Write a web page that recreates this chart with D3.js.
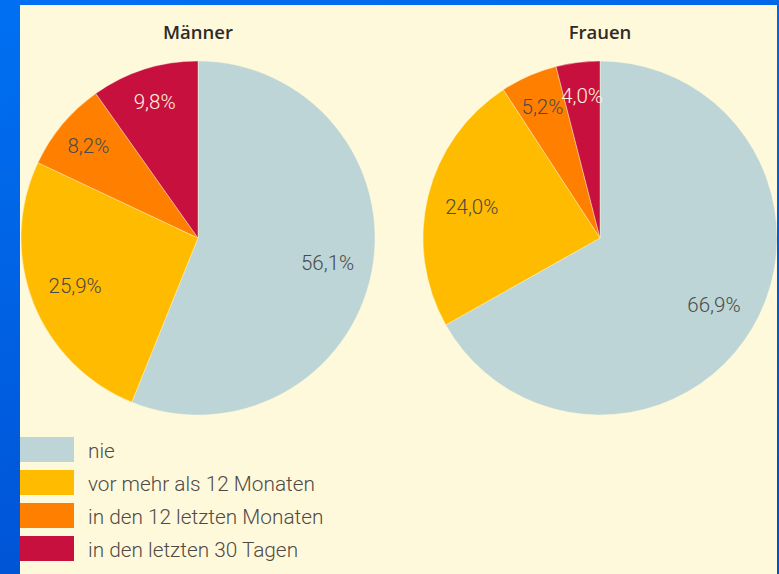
<!DOCTYPE html>
<html>
<head>
<meta charset="utf-8">
<script src="https://cdn.jsdelivr.net/npm/d3@7"></script>
<style>
  html, body { margin: 0; padding: 0; }
  body { width: 779px; height: 574px; overflow: hidden; background: #0068ec; }
  svg { display: block; }
</style>
</head>
<body>
<svg id="chart" width="779" height="574"></svg>
<script>
// Categories and shares (percent) per group
const categories = ["nie", "vor mehr als 12 Monaten", "in den 12 letzten Monaten", "in den letzten 30 Tagen"];
const groups = ["Männer", "Frauen"];
const maennerValues = [56.1, 25.9, 8.2, 9.8];
const frauenValues = [66.9, 24.0, 5.2, 4.0];
const seriesValues = [maennerValues, frauenValues];
const colors = ["#bdd5d6", "#ffbb00", "#ff8000", "#c8103f"];
const labelColors = ["#4a4a4a", "#4a4a4a", "#4a4a4a", "#fff4dc"];

const svg = d3.select("#chart");
const W = 779, H = 574;

// Background frame
const defs = svg.append("defs");
const grad = defs.append("linearGradient").attr("id", "frame")
  .attr("x1", 0).attr("y1", 0).attr("x2", 0.3).attr("y2", 1);
grad.append("stop").attr("offset", 0).attr("stop-color", "#0070f2");
grad.append("stop").attr("offset", 1).attr("stop-color", "#0052d4");
svg.append("rect").attr("width", W).attr("height", H).attr("fill", "url(#frame)");

// Cream panel
const panel = { x: 20, y: 5, w: 757, h: 569 };
svg.append("rect")
  .attr("x", panel.x).attr("y", panel.y)
  .attr("width", panel.w).attr("height", panel.h)
  .attr("fill", "#fff9dc");

const clip = defs.append("clipPath").attr("id", "panelClip");
clip.append("rect").attr("x", panel.x).attr("y", panel.y).attr("width", panel.w).attr("height", panel.h);

const plot = svg.append("g").attr("clip-path", "url(#panelClip)");

// Pie layout: start at 12 o'clock, clockwise, keep category order
const pie = d3.pie().sort(null).value(d => d);
const radius = 177;
const arc = d3.arc().innerRadius(0).outerRadius(radius);

const groupX = d3.scalePoint().domain(groups).range([198, 600]);
const cy = 238;

groups.forEach((g, gi) => {
  const cx = groupX(g);
  const gg = plot.append("g").attr("transform", `translate(${cx},${cy})`);
  const arcs = pie(seriesValues[gi]);

  gg.selectAll("path.slice")
    .data(arcs)
    .enter().append("path")
    .attr("class", "slice")
    .attr("d", arc)
    .attr("fill", (d, i) => colors[i])
    .attr("stroke", "#fff9dc")
    .attr("stroke-width", 0.4);

  // Value labels: smaller slices sit a bit further out
  gg.selectAll("text.val")
    .data(arcs)
    .enter().append("text")
    .attr("class", "val")
    .attr("transform", d => {
      const share = (d.endAngle - d.startAngle) / (2 * Math.PI);
      const lr = share < 0.11 ? 143 : 132;
      const a = (d.startAngle + d.endAngle) / 2;
      return `translate(${lr * Math.sin(a)},${-lr * Math.cos(a)})`;
    })
    .attr("text-anchor", "middle")
    .attr("dominant-baseline", "central")
    .attr("font-family", "Roboto, 'Noto Sans', sans-serif")
    .attr("font-weight", 300)
    .attr("font-size", 20.5)
    .attr("fill", (d, i) => labelColors[i])
    .text(d => d3.format(".1f")(d.data).replace(".", ",") + "%");

  // Group title
  svg.append("text")
    .attr("x", cx).attr("y", 31)
    .attr("text-anchor", "middle")
    .attr("dominant-baseline", "central")
    .attr("font-family", "'Open Sans', 'Noto Sans', sans-serif")
    .attr("font-weight", 600)
    .attr("font-size", 18.5)
    .attr("fill", "#2e2a26")
    .text(g);
});

// Legend
const legendY = d3.scaleBand().domain(categories).range([437, 561]).paddingInner(8 / 33).paddingOuter(0);
const legend = svg.append("g");
categories.forEach((c, i) => {
  legend.append("rect")
    .attr("x", 20).attr("y", legendY(c))
    .attr("width", 54).attr("height", legendY.bandwidth())
    .attr("fill", colors[i]);
  legend.append("text")
    .attr("x", 88).attr("y", legendY(c) + legendY.bandwidth() / 2 + 1)
    .attr("dominant-baseline", "central")
    .attr("font-family", "Roboto, 'Noto Sans', sans-serif")
    .attr("font-weight", 300)
    .attr("font-size", 20.8)
    .attr("fill", "#4f4a45")
    .text(c);
});
</script>
</body>
</html>
